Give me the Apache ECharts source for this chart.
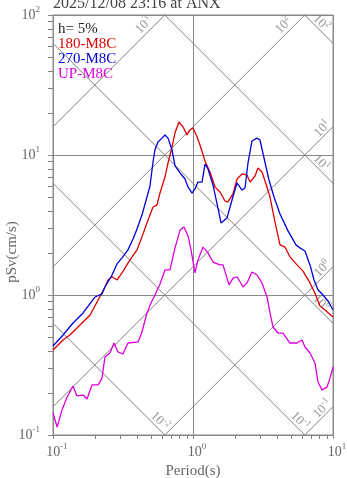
<!DOCTYPE html>
<html>
<head>
<meta charset="utf-8">
<script src="https://cdn.jsdelivr.net/npm/echarts@6/dist/echarts.min.js"></script>
<style>
  html, body { margin: 0; padding: 0; background: #fff; }
  #chart { width: 347px; height: 478px; }
</style>
</head>
<body>
<div id="chart"></div>
<script>
// response spectrum, h = 5%, pSv (cm/s) against period (s)
var periodNS = [0.1, 0.118, 0.132, 0.156, 0.184, 0.210, 0.235, 0.247, 0.264, 0.287, 0.311, 0.343, 0.367, 0.398, 0.432, 0.469, 0.518, 0.553, 0.581, 0.631, 0.663, 0.708, 0.744, 0.794, 0.848, 0.906, 0.952, 1.0, 1.068, 1.122, 1.218, 1.323, 1.436, 1.559, 1.693, 1.778, 1.931, 2.063, 2.239, 2.43, 2.554, 2.773, 2.913, 3.111, 3.322, 3.548, 3.853, 4.183, 4.542, 4.93, 5.534, 6.105, 6.852, 7.436, 8.07, 8.77, 10];
var svNS = [0.405, 0.477, 0.518, 0.611, 0.720, 0.921, 1.14, 1.28, 1.35, 1.28, 1.44, 1.69, 1.87, 2.10, 2.60, 3.27, 4.25, 4.39, 5.35, 6.96, 8.77, 11.4, 14.4, 17.2, 15.9, 13.9, 15.1, 15.6, 13.5, 11.8, 9.06, 7.56, 5.91, 5.44, 4.69, 4.62, 5.27, 6.74, 7.32, 7.20, 6.41, 7.08, 8.07, 7.56, 6.21, 5.01, 3.32, 2.28, 2.20, 1.87, 1.64, 1.48, 1.22, 1.03, 0.834, 0.781, 0.696];

var periodEW = [0.1, 0.118, 0.139, 0.164, 0.200, 0.224, 0.235, 0.264, 0.287, 0.311, 0.343, 0.373, 0.398, 0.432, 0.469, 0.493, 0.518, 0.535, 0.562, 0.601, 0.631, 0.663, 0.708, 0.744, 0.808, 0.877, 0.921, 0.984, 1.033, 1.086, 1.16, 1.218, 1.28, 1.389, 1.508, 1.585, 1.749, 1.899, 2.063, 2.239, 2.352, 2.471, 2.639, 2.865, 3.01, 3.215, 3.49, 3.79, 4.183, 4.77, 5.44, 5.81, 6.31, 6.852, 7.32, 7.81, 8.48, 9.21, 10];
var svEW = [0.432, 0.518, 0.631, 0.744, 0.968, 1.02, 1.14, 1.39, 1.67, 1.84, 2.10, 2.51, 2.96, 3.73, 5.01, 6.01, 8.91, 10.9, 12.4, 13.2, 13.9, 13.2, 10.9, 8.35, 7.44, 6.74, 5.91, 5.35, 5.72, 6.41, 6.41, 8.62, 7.94, 6.11, 4.18, 3.27, 3.55, 4.77, 6.31, 5.62, 5.81, 8.77, 12.6, 13.2, 12.8, 9.52, 6.63, 5.01, 3.79, 2.87, 2.28, 2.17, 2.06, 1.64, 1.28, 1.09, 1.0, 0.906, 0.781];

var periodUD = [0.1, 0.107, 0.116, 0.126, 0.139, 0.148, 0.164, 0.175, 0.190, 0.210, 0.224, 0.235, 0.255, 0.273, 0.291, 0.316, 0.343, 0.405, 0.432, 0.469, 0.501, 0.535, 0.581, 0.631, 0.685, 0.744, 0.808, 0.862, 0.921, 0.968, 1.033, 1.086, 1.179, 1.28, 1.389, 1.559, 1.638, 1.808, 1.931, 2.063, 2.276, 2.43, 2.639, 2.865, 3.111, 3.378, 3.548, 3.728, 4.047, 4.394, 4.93, 5.534, 6.005, 6.31, 6.852, 7.436, 7.81, 8.35, 9.06, 9.52, 10];
var svUD = [0.144, 0.114, 0.151, 0.187, 0.224, 0.190, 0.193, 0.181, 0.228, 0.228, 0.255, 0.361, 0.385, 0.454, 0.392, 0.379, 0.454, 0.462, 0.544, 0.744, 0.877, 1.0, 1.20, 1.51, 1.51, 2.17, 2.91, 3.06, 2.64, 2.10, 1.44, 1.78, 2.20, 2.00, 1.72, 1.64, 1.64, 1.18, 1.32, 1.35, 1.14, 1.22, 1.46, 1.39, 1.22, 0.968, 0.744, 0.591, 0.535, 0.535, 0.454, 0.454, 0.477, 0.425, 0.385, 0.327, 0.239, 0.210, 0.220, 0.255, 0.306];

var seriesNames = ['180-M8C', '270-M8C', 'UP-M8C'];
var seriesColors = ['#dd0000', '#0000dd', '#dd00dd'];

// tripartite guide lines
var accelLevels = [0.1, 1, 10, 100, 1000];  // cm/s2, rising to the right
var dispLevels = [0.01, 0.1, 1, 10, 100];   // cm, falling to the right
var minorSteps = [2, 3, 4, 5, 6, 7, 8, 9];

var FONT = '"Liberation Serif", "Times New Roman", serif';
var TWO_PI = 2 * Math.PI;

function zip(xs, ys) {
  return xs.map(function (x, i) { return [x, ys[i]]; });
}

function pow10label(v, b, s) {
  var e = Math.round(Math.log10(v));
  return '{' + b + '|10}{' + s + '|' + e + '}';
}

function accelLabelPoint(a) {
  var tTop = TWO_PI * 100 / a, t, lift;
  if (tTop <= 10) { t = tTop / Math.pow(10, 0.15); lift = 0.075; }
  else { t = 10 / Math.pow(10, 0.075); lift = 0.06; }
  return [t, a * t / TWO_PI * Math.pow(10, lift)];
}

function dispLabelPoint(d) {
  var t, lift;
  if (TWO_PI * d / 10 >= 0.1) { t = 10 / Math.pow(10, 0.085); lift = 0.06; }
  else { t = TWO_PI * d / 0.1 / Math.pow(10, 0.035); lift = 0.065; }
  return [t, TWO_PI * d / t * Math.pow(10, lift)];
}

var guideStyle = { color: '#808080', width: 1 };
var series = [];

accelLevels.forEach(function (a) {
  series.push({
    type: 'line', silent: true, symbol: 'none', z: 1,
    lineStyle: guideStyle,
    data: [[0.1, a * 0.1 / TWO_PI], [10, a * 10 / TWO_PI]]
  });
});
dispLevels.forEach(function (d) {
  series.push({
    type: 'line', silent: true, symbol: 'none', z: 1,
    lineStyle: guideStyle,
    data: [[0.1, TWO_PI * d / 0.1], [10, TWO_PI * d / 10]]
  });
});

var diagRich = {
  d: { fontSize: 13, lineHeight: 17, fontFamily: FONT, color: '#7a7a7a' },
  ds: { fontSize: 9, lineHeight: 10, verticalAlign: 'top', fontFamily: FONT, color: '#7a7a7a' }
};

function guideLabels(levels, pointFn, rot) {
  return {
    type: 'scatter', silent: true, symbolSize: 0, z: 2,
    data: levels.map(function (lv) {
      var p = pointFn(lv);
      return { value: p, lv: lv };
    }),
    label: {
      show: true, position: 'inside', rotate: rot,
      formatter: function (p) { return pow10label(p.data.lv, 'd', 'ds'); },
      rich: diagRich
    }
  };
}
series.push(guideLabels(accelLevels, accelLabelPoint, 45));
series.push(guideLabels(dispLevels, dispLabelPoint, -45));

// minor log ticks drawn outside the frame
var xMinor = [], yMinor = [];
[0.1, 1].forEach(function (dec) {
  minorSteps.forEach(function (m) { xMinor.push([dec * m, 0.1]); });
});
[0.1, 1, 10].forEach(function (dec) {
  minorSteps.forEach(function (m) { yMinor.push([0.1, dec * m]); });
});
series.push({
  type: 'custom', silent: true, z: 3, data: xMinor,
  renderItem: function (params, api) {
    var p = api.coord([api.value(0), api.value(1)]);
    var x = Math.round(p[0]) + 0.5;
    return { type: 'line', shape: { x1: x, y1: p[1], x2: x, y2: p[1] + 4 },
             style: { stroke: '#808080', lineWidth: 1 } };
  }
});
series.push({
  type: 'custom', silent: true, z: 3, data: yMinor,
  renderItem: function (params, api) {
    var p = api.coord([api.value(0), api.value(1)]);
    var y = Math.round(p[1]) + 0.5;
    return { type: 'line', shape: { x1: p[0] - 5, y1: y, x2: p[0], y2: y },
             style: { stroke: '#808080', lineWidth: 1 } };
  }
});

[[periodNS, svNS], [periodEW, svEW], [periodUD, svUD]].forEach(function (pair, i) {
  series.push({
    name: seriesNames[i], type: 'line', symbol: 'none', z: 5,
    lineStyle: { color: seriesColors[i], width: 1.3 },
    itemStyle: { color: seriesColors[i] },
    data: zip(pair[0], pair[1])
  });
});

var axisRich = {
  b: { fontSize: 14, lineHeight: 20, fontFamily: FONT, color: '#666' },
  s: { fontSize: 9, lineHeight: 10, verticalAlign: 'top', fontFamily: FONT, color: '#666' }
};

var chart = echarts.init(document.getElementById('chart'), null, { renderer: 'canvas' });
chart.setOption({
  animation: false,
  backgroundColor: '#fff',
  title: {
    text: '2025/12/08 23:16 at ANX',
    left: 53, top: -4, padding: 0,
    textStyle: { fontFamily: FONT, fontSize: 16, fontWeight: 'normal', color: '#444' }
  },
  legend: {
    data: seriesNames.map(function (n, i) {
      return { name: n, textStyle: { color: seriesColors[i] } };
    }),
    orient: 'vertical', left: 53, top: 36.5, padding: 0,
    icon: 'none', itemWidth: 0, itemHeight: 15, itemGap: 0,
    selectedMode: false,
    textStyle: { fontFamily: FONT, fontSize: 15, lineHeight: 15 }
  },
  graphic: [
    { type: 'text', left: 58, top: 21.5, silent: true,
      style: { text: 'h= 5%', font: '15px ' + FONT, fill: '#222' } },
    { type: 'text', x: 12, y: 252, rotation: Math.PI / 2, silent: true,
      style: { text: 'pSv(cm/s)', font: '15px ' + FONT, fill: '#666',
               align: 'center', verticalAlign: 'middle' } }
  ],
  grid: {
    left: 53, top: 15, width: 280, height: 420,
    show: true, borderColor: '#888', borderWidth: 1,
    outerBoundsMode: 'none'
  },
  xAxis: {
    type: 'log', logBase: 10, min: 0.1, max: 10,
    axisLine: { show: true, lineStyle: { color: '#888' } },
    axisTick: { show: true, length: 4, lineStyle: { color: '#888' } },
    splitLine: { show: true, lineStyle: { color: '#888', width: 1 } },
    axisLabel: {
      margin: 7, padding: [0, 0, 0, 8],
      formatter: function (v) { return pow10label(v, 'b', 's'); },
      rich: axisRich
    },
    name: 'Period(s)', nameLocation: 'middle', nameGap: 25,
    nameTextStyle: { fontFamily: FONT, fontSize: 15, color: '#666' }
  },
  yAxis: {
    type: 'log', logBase: 10, min: 0.1, max: 100,
    axisLine: { show: true, lineStyle: { color: '#888' } },
    axisTick: { show: true, length: 5, lineStyle: { color: '#888' } },
    splitLine: { show: true, lineStyle: { color: '#888', width: 1 } },
    axisLabel: {
      margin: 13,
      formatter: function (v) { return pow10label(v, 'b', 's'); },
      rich: axisRich
    }
  },
  series: series
});
</script>
</body>
</html>
